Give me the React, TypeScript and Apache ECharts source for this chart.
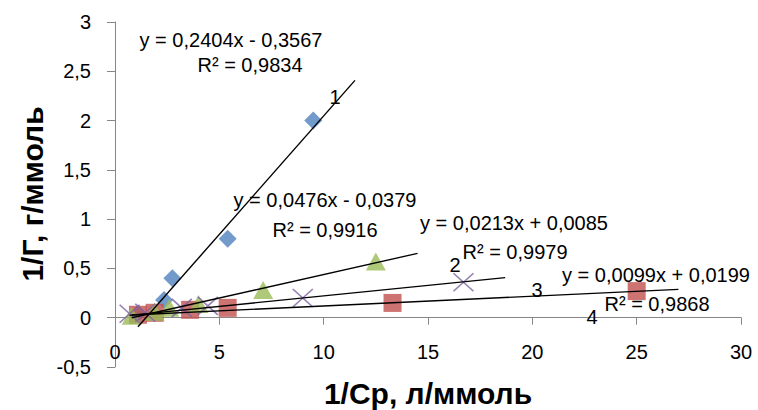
import React, { useEffect, useRef } from "react";
import * as echarts from "echarts";

// Series 1: blue diamonds
const blueX = [1.1, 2.35, 2.75, 5.4, 9.5];
const blueY = [0.04, 0.18, 0.4, 0.8, 2.0];
// Series 2: red squares
const redX = [1.1, 1.9, 3.6, 5.4, 13.3, 25];
const redY = [0.03, 0.05, 0.08, 0.1, 0.15, 0.27];
// Series 3: green triangles
const greenX = [0.8, 1.9, 2.6, 4.0, 7.1, 12.5];
const greenY = [0.02, 0.06, 0.1, 0.14, 0.28, 0.57];
// Series 4: purple crosses
const purpleX = [0.7, 1.45, 3.2, 4.45, 9.0, 16.7];
const purpleY = [0.04, 0.05, 0.1, 0.12, 0.2, 0.36];

// Trendlines (displayed equations) and their x extents
const trendSlope = [0.2404, 0.0476, 0.0213, 0.0099];
const trendIntercept = [-0.3567, -0.0379, 0.0085, 0.0199];
const trendXStart = [1.1, 0.8, 0.7, 0.8];
const trendXEnd = [11.5, 14.5, 18.7, 27.0];
const equations = [
  "y = 0,2404x - 0,3567",
  "y = 0,0476x - 0,0379",
  "y = 0,0213x + 0,0085",
  "y = 0,0099x + 0,0199",
];
const rSquared = ["R² = 0,9834", "R² = 0,9916", "R² = 0,9979", "R² = 0,9868"];
const lineNumbers = ["1", "2", "3", "4"];

const xTitle = "1/Cp, л/ммоль";
const yTitle = "1/Г, г/ммоль";

const FONT = "'Liberation Sans', Arial, sans-serif";

const zip = (xs: number[], ys: number[]) => xs.map((x, i) => [x, ys[i]]);

const GRID_TOP = 22;
const GRID_BOTTOM = 43;
const Y_MIN = -0.5;
const Y_MAX = 3;

export default function App() {
  const ref = useRef<HTMLDivElement>(null);
  useEffect(() => {
    if (!ref.current) return;
    const chart = echarts.init(ref.current, undefined, { renderer: "svg" });

    const trendSeries = trendSlope.map((m, i) => ({
      type: "line",
      data: [
        [trendXStart[i], m * trendXStart[i] + trendIntercept[i]],
        [trendXEnd[i], m * trendXEnd[i] + trendIntercept[i]],
      ],
      showSymbol: false,
      symbol: "none",
      lineStyle: { color: "#000", width: 1.4 },
      z: 10,
      silent: true,
    }));

    const eqPos = [
      [231, 40],
      [325, 200],
      [514, 223],
      [656, 275],
    ];
    const r2Pos = [
      [250, 65],
      [325, 230],
      [515, 252],
      [657, 304],
    ];
    const numPos = [
      [335, 97],
      [455, 265],
      [537, 290],
      [592, 317],
    ];
    const txt = (s: string, x: number, y: number, size = 20, bold = false, rot = 0) => ({
      type: "text",
      x,
      y,
      rotation: rot,
      z: 20,
      style: {
        text: s,
        fill: "#000",
        font: `${bold ? "bold " : ""}${size}px ${FONT}`,
        textAlign: "center",
        textVerticalAlign: "middle",
      },
    });

    const graphics: any[] = [];
    equations.forEach((e, i) => graphics.push(txt(e, eqPos[i][0], eqPos[i][1])));
    rSquared.forEach((e, i) => graphics.push(txt(e, r2Pos[i][0], r2Pos[i][1])));
    lineNumbers.forEach((e, i) => graphics.push(txt(e, numPos[i][0], numPos[i][1])));
    graphics.push(txt(xTitle, 428, 393, 30, true));
    graphics.push(txt(yTitle, 32, 194, 30, true, Math.PI / 2));

    const fmt = (v: number) => String(v).replace(".", ",");

    // move the x axis from the grid bottom up to y = 0
    const plotH = 410 - GRID_TOP - GRID_BOTTOM;
    const zeroOffset = -((0 - Y_MIN) / (Y_MAX - Y_MIN)) * plotH;

    chart.setOption({
      animation: false,
      backgroundColor: "#fff",
      textStyle: { fontFamily: FONT },
      grid: { left: 115, right: 17, top: GRID_TOP, bottom: GRID_BOTTOM },
      xAxis: {
        type: "value",
        min: 0,
        max: 30,
        interval: 5,
        offset: zeroOffset,
        axisLine: { onZero: false, lineStyle: { color: "#868686", width: 1 } },
        axisTick: { show: true, length: 7, inside: false, lineStyle: { color: "#868686" } },
        axisLabel: { color: "#000", fontSize: 20, margin: 24, fontFamily: FONT, formatter: fmt },
        splitLine: { show: false },
      },
      yAxis: {
        type: "value",
        min: Y_MIN,
        max: Y_MAX,
        interval: 0.5,
        axisLine: { show: true, onZero: false, lineStyle: { color: "#868686", width: 1 } },
        axisTick: { show: true, length: 8, lineStyle: { color: "#868686" } },
        axisLabel: { color: "#000", fontSize: 20, margin: 24, fontFamily: FONT, formatter: fmt },
        splitLine: { show: false },
      },
      series: [
        {
          type: "scatter",
          data: zip(blueX, blueY),
          symbol: "diamond",
          symbolSize: 18,
          itemStyle: { color: "#4F81BD" },
          z: 2,
        },
        {
          type: "scatter",
          data: zip(redX, redY),
          symbol: "rect",
          symbolSize: 18,
          itemStyle: { color: "#C0504D" },
          z: 3,
        },
        {
          type: "scatter",
          data: zip(greenX, greenY),
          symbol: "triangle",
          symbolSize: [20, 18],
          itemStyle: { color: "#9BBB59" },
          z: 4,
        },
        {
          type: "scatter",
          data: zip(purpleX, purpleY),
          symbol: "path://M0,0L20,18M20,0L0,18",
          symbolSize: [20, 18],
          itemStyle: { color: "rgba(0,0,0,0)", borderColor: "#8064A2", borderWidth: 1.6 },
          z: 5,
        },
        ...trendSeries,
      ],
      graphic: graphics,
    });
    return () => chart.dispose();
  }, []);

  return (
    <div
      ref={ref}
      style={{ position: "fixed", left: 0, top: 0, width: 758, height: 410, background: "#fff" }}
    />
  );
}
